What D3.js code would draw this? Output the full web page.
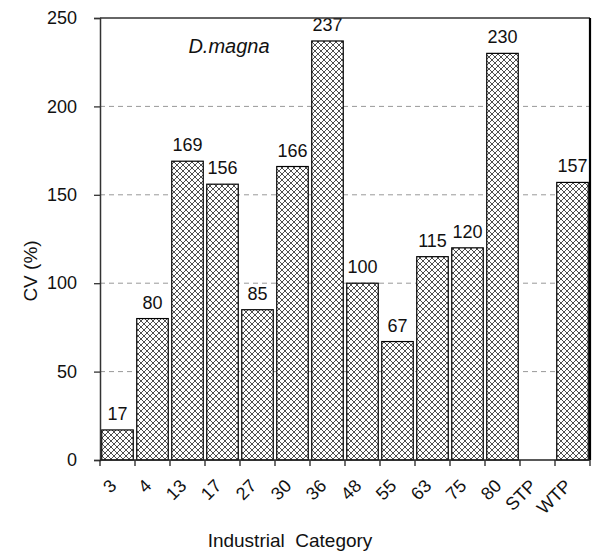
<!DOCTYPE html>
<meta charset="utf-8">
<style>
  body { margin: 0; background: #fff; }
  text { font-family: "Liberation Sans", Arial, sans-serif; }
</style>
<svg width="594" height="551"></svg>
<script src="https://d3js.org/d3.v7.min.js"></script>
<script>

categories = ["3", "4", "13", "17", "27", "30", "36", "48", "55", "63", "75", "80", "STP", "WTP"]
cvValues = [17, 80, 169, 156, 85, 166, 237, 100, 67, 115, 120, 230, null, 157]
yTicks = [0, 50, 100, 150, 200, 250]

var margin = {left: 100, right: 4, top: 18, bottom: 91}
var width = 594, height = 551

var svg = d3.select("svg")

var x = d3.scaleBand()
    .domain(categories)
    .range([margin.left, width - margin.right])
    .paddingInner(0.1)
    .paddingOuter(0.05)

var y = d3.scaleLinear()
    .domain([0, 250])
    .range([height - margin.bottom, margin.top])

// hatch pattern
var defs = svg.append("defs")
var pat = defs.append("pattern")
    .attr("id", "hatch")
    .attr("patternUnits", "userSpaceOnUse")
    .attr("width", 6).attr("height", 6)
pat.append("rect").attr("width", 6).attr("height", 6).attr("fill", "#fff")
pat.append("path")
    .attr("d", "M0,0 L6,6 M6,0 L0,6")
    .attr("stroke", "#222").attr("stroke-width", 0.8)

// gridlines
svg.append("g")
  .selectAll("line")
  .data(yTicks.filter(d => d > 0 && d < 250))
  .join("line")
    .attr("x1", margin.left).attr("x2", width - margin.right)
    .attr("y1", d => y(d)).attr("y2", d => y(d))
    .attr("stroke", "#999")
    .attr("stroke-dasharray", "5,4")

// bars
var data = categories.map((c, i) => ({cat: c, v: cvValues[i]})).filter(d => d.v != null)

svg.append("g")
  .selectAll("rect")
  .data(data)
  .join("rect")
    .attr("x", d => x(d.cat))
    .attr("y", d => y(d.v))
    .attr("width", x.bandwidth())
    .attr("height", d => y(0) - y(d.v))
    .attr("fill", "url(#hatch)")
    .attr("stroke", "#000")
    .attr("stroke-width", 1.2)

// value labels
svg.append("g")
  .selectAll("text")
  .data(data)
  .join("text")
    .attr("x", d => x(d.cat) + x.bandwidth() / 2)
    .attr("y", d => y(d.v) - 10)
    .attr("text-anchor", "middle")
    .attr("font-size", 18)
    .attr("fill", "#111")
    .text(d => d.v)

// frame: top and right
svg.append("line")
    .attr("x1", margin.left).attr("x2", width - margin.right)
    .attr("y1", margin.top).attr("y2", margin.top)
    .attr("stroke", "#333").attr("stroke-width", 1.3)
svg.append("line")
    .attr("x1", width - margin.right).attr("x2", width - margin.right)
    .attr("y1", margin.top).attr("y2", y(0))
    .attr("stroke", "#000").attr("stroke-width", 2.2)

// y axis
var yAxis = svg.append("g")
    .attr("transform", "translate(" + margin.left + ",0)")
    .call(d3.axisLeft(y).tickValues(yTicks).tickSize(6).tickPadding(17))
yAxis.select(".domain").attr("stroke", "#333").attr("stroke-width", 1.5)
yAxis.selectAll(".tick line").attr("stroke", "#333").attr("stroke-width", 1.3)
yAxis.selectAll("text")
    .attr("font-size", 18)
    .attr("font-family", "Liberation Sans, Arial, sans-serif")
    .attr("fill", "#111")

// x axis line and boundary ticks
var step = x.step()
var bounds = categories.map(c => x(c) - step * x.paddingInner() / 2).concat([width - margin.right])
svg.append("line")
    .attr("x1", margin.left).attr("x2", width - margin.right)
    .attr("y1", y(0)).attr("y2", y(0))
    .attr("stroke", "#222").attr("stroke-width", 1.5)
svg.append("g")
  .selectAll("line")
  .data(bounds)
  .join("line")
    .attr("x1", d => d).attr("x2", d => d)
    .attr("y1", y(0)).attr("y2", y(0) + 6)
    .attr("stroke", "#222").attr("stroke-width", 1.3)

svg.append("g")
  .selectAll("text")
  .data(categories)
  .join("text")
    .attr("transform", d => "translate(" + (x(d) + x.bandwidth() / 2) + "," + (y(0) + 27) + ") rotate(-45)")
    .attr("text-anchor", "end")
    .attr("font-size", 18)
    .attr("fill", "#111")
    .text(d => d)

// titles
svg.append("text")
    .attr("transform", "translate(37," + 271 + ") rotate(-90)")
    .attr("text-anchor", "middle")
    .attr("font-size", 19)
    .attr("fill", "#111")
    .text("CV (%)")

svg.append("text")
    .attr("x", 290).attr("y", 547)
    .attr("text-anchor", "middle")
    .attr("font-size", 19)
    .attr("fill", "#111")
    .style("white-space", "pre")
    .text("Industrial  Category")

svg.append("text")
    .attr("x", 229).attr("y", 53)
    .attr("text-anchor", "middle")
    .attr("font-size", 20)
    .attr("font-style", "italic")
    .attr("fill", "#111")
    .text("D.magna")

</script>
